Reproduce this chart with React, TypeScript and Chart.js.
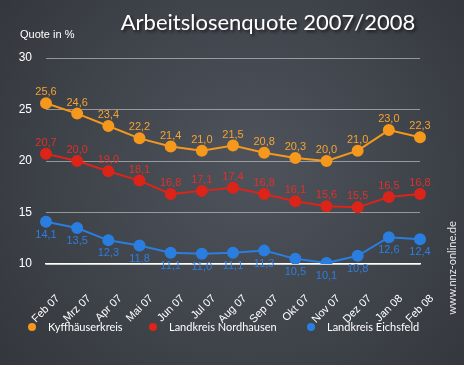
import React, { useEffect, useRef } from "react";
import { Chart, registerables } from "chart.js";

Chart.register(...registerables);

const months = ["Feb 07", "Mrz 07", "Apr 07", "Mai 07", "Jun 07", "Jul 07", "Aug 07", "Sep 07", "Okt 07", "Nov 07", "Dez 07", "Jan 08", "Feb 08"];
const kyffhaeuser = [25.6, 24.6, 23.4, 22.2, 21.4, 21.0, 21.5, 20.8, 20.3, 20.0, 21.0, 23.0, 22.3];
const nordhausen = [20.7, 20.0, 19.0, 18.1, 16.8, 17.1, 17.4, 16.8, 16.1, 15.6, 15.5, 16.5, 16.8];
const eichsfeld = [14.1, 13.5, 12.3, 11.8, 11.1, 11.0, 11.1, 11.3, 10.5, 10.1, 10.8, 12.6, 12.4];
const seriesNames = ["Kyffhäuserkreis", "Landkreis Nordhausen", "Landkreis Eichsfeld"];
const titleText = "Arbeitslosenquote 2007/2008";
const yAxisTitle = "Quote in %";
const sourceText = "www.nnz-online.de";

const colors = ["#f5981c", "#dc2418", "#2a7ee0"];
const labelColors = ["#f5a333", "#e0302a", "#2f7ee0"];
const labelBelow = [false, false, true];
const legendX = [32, 153, 311];

const bgPlugin = {
  id: "bg",
  beforeDraw(chart: any) {
    const { ctx, width, height } = chart;
    ctx.save();
    const g = ctx.createRadialGradient(width * 0.55, height * 0.45, 20, width * 0.5, height * 0.5, width * 0.75);
    g.addColorStop(0, "#4d525a");
    g.addColorStop(1, "#2f3238");
    ctx.fillStyle = g;
    ctx.fillRect(0, 0, width, height);
    ctx.restore();
  },
};

const textPlugin = {
  id: "texts",
  afterDraw(chart: any) {
    const { ctx } = chart;
    ctx.save();
    // title
    ctx.font = "22px Lato";
    ctx.textAlign = "center";
    ctx.textBaseline = "middle";
    ctx.shadowColor = "rgba(0,0,0,0.6)";
    ctx.shadowOffsetX = 2;
    ctx.shadowOffsetY = 2;
    ctx.shadowBlur = 3;
    ctx.fillStyle = "#ffffff";
    ctx.fillText(titleText, 268, 23);
    ctx.shadowColor = "transparent";
    // y title
    ctx.font = "11px 'Liberation Sans'";
    ctx.textAlign = "left";
    ctx.fillText(yAxisTitle, 20, 35);
    // legend
    ctx.font = "11px Lato";
    seriesNames.forEach((n, i) => {
      ctx.fillStyle = colors[i];
      ctx.beginPath();
      ctx.arc(legendX[i], 327, 4, 0, Math.PI * 2);
      ctx.fill();
      ctx.fillStyle = "#ffffff";
      ctx.textAlign = "left";
      ctx.fillText(n, legendX[i] + 16, 327);
    });
    // source text
    ctx.translate(452, 268);
    ctx.rotate(-Math.PI / 2);
    ctx.textAlign = "center";
    ctx.font = "11px Lato";
    ctx.fillStyle = "#e8e8e8";
    ctx.fillText(sourceText, 0, 0);
    ctx.restore();
  },
  afterDatasetsDraw(chart: any) {
    const { ctx } = chart;
    ctx.save();
    ctx.font = "11px 'Liberation Sans'";
    ctx.textAlign = "center";
    ctx.textBaseline = "middle";
    chart.data.datasets.forEach((ds: any, i: number) => {
      const meta = chart.getDatasetMeta(i);
      meta.data.forEach((pt: any, j: number) => {
        const v = ds.data[j] as number;
        const txt = v.toFixed(1).replace(".", ",");
        ctx.fillStyle = labelColors[i];
        const dy = labelBelow[i] ? 13 : -11;
        ctx.fillText(txt, pt.x, pt.y + dy);
      });
    });
    ctx.restore();
  },
};

export default function App() {
  const ref = useRef<HTMLCanvasElement>(null);
  useEffect(() => {
    const series = [kyffhaeuser, nordhausen, eichsfeld];
    const chart = new Chart(ref.current!, {
      type: "line",
      data: {
        labels: months,
        datasets: series.map((d, i) => ({
          label: seriesNames[i],
          data: d,
          borderColor: colors[i],
          backgroundColor: colors[i],
          pointBackgroundColor: colors[i],
          pointBorderColor: colors[i],
          pointRadius: 5,
          borderWidth: 2,
          tension: 0,
        })),
      },
      options: {
        animation: false,
        responsive: false,
        layout: { padding: { left: 0, right: 44, top: 58, bottom: 19 } },
        scales: {
          x: {
            offset: false,
            grid: { display: false },
            border: { display: true, color: "#ffffff", width: 1.5 },
            ticks: {
              color: "#ffffff",
              font: { family: "'Liberation Sans'", size: 11 },
              minRotation: 45,
              maxRotation: 45,
              padding: 20,
              labelOffset: 12,
            },
          },
          y: {
            min: 10,
            max: 30,
            afterFit(scale: any) {
              scale.width = 46;
            },
            grid: { color: "rgba(220,220,220,0.55)", drawTicks: false },
            border: { display: false },
            ticks: {
              stepSize: 5,
              color: "#ffffff",
              padding: 14,
              font: { family: "'Liberation Sans'", size: 12 },
            },
          },
        },
        plugins: {
          title: { display: false },
          tooltip: { enabled: false },
          legend: { display: false },
        },
      },
      plugins: [bgPlugin, textPlugin],
    });
    return () => chart.destroy();
  }, []);
  return (
    <div style={{ position: "fixed", left: 0, top: 0, width: 464, height: 365 }}>
      <canvas ref={ref} width={464} height={365} style={{ display: "block" }} />
    </div>
  );
}
